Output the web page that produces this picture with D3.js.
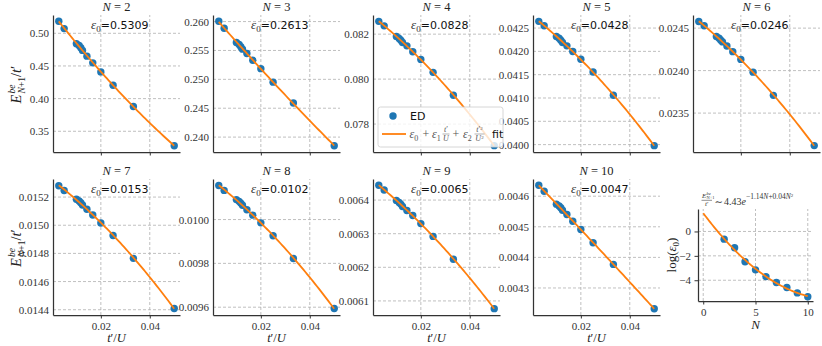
<!DOCTYPE html>
<html><head><meta charset="utf-8">
<script src="https://cdn.jsdelivr.net/npm/d3@7"></script>
<style>body{margin:0;background:#fff}svg{display:block}</style>
</head><body><svg id="c" width="822" height="346"></svg>
<script>
// ---------------- data ----------------
const tU = [0.0028, 0.005, 0.01, 0.0111, 0.0118, 0.0125, 0.0143, 0.0167, 0.02, 0.025, 0.0333, 0.05];
const Ns = [2, 3, 4, 5, 6, 7, 8, 9, 10];
const E_N2  = [0.5185, 0.5072, 0.4841, 0.4815, 0.4779, 0.4738, 0.4650, 0.4548, 0.4409, 0.4204, 0.3880, 0.3278];
const E_N3  = [0.26006, 0.25884, 0.25639, 0.25604, 0.25563, 0.25523, 0.25447, 0.25330, 0.25185, 0.24951, 0.24590, 0.23850];
const E_N4  = [0.08257, 0.08237, 0.08190, 0.08181, 0.08173, 0.08163, 0.08148, 0.08122, 0.08087, 0.08030, 0.07928, 0.07704];
const E_N5  = [0.042644, 0.042550, 0.042320, 0.042284, 0.042241, 0.042190, 0.042118, 0.041996, 0.041830, 0.041556, 0.041059, 0.039978];
const E_N6  = [0.024579, 0.024528, 0.024401, 0.024381, 0.024358, 0.024338, 0.024290, 0.024223, 0.024132, 0.023982, 0.023709, 0.023117];
const E_N7  = [0.015280, 0.015247, 0.015184, 0.015172, 0.015160, 0.015144, 0.015113, 0.015073, 0.015016, 0.014927, 0.014765, 0.014409];
const E_N8  = [0.010155, 0.010133, 0.010091, 0.010083, 0.010075, 0.010065, 0.010045, 0.010020, 0.009985, 0.009926, 0.009822, 0.009594];
const E_N9  = [0.006444, 0.006430, 0.006399, 0.006393, 0.006388, 0.006381, 0.006369, 0.006354, 0.006330, 0.006292, 0.006224, 0.006077];
const E_N10 = [0.004636, 0.004616, 0.004574, 0.004568, 0.004562, 0.004554, 0.004540, 0.004518, 0.004491, 0.004448, 0.004377, 0.004232];
const eps0Text = ["0.5309", "0.2613", "0.0828", "0.0428", "0.0246", "0.0153", "0.0102", "0.0065", "0.0047"];
const yTicks_N2  = [0.35, 0.40, 0.45, 0.50];
const yTicks_N3  = [0.240, 0.245, 0.250, 0.255, 0.260];
const yTicks_N4  = [0.078, 0.080, 0.082];
const yTicks_N5  = [0.0400, 0.0405, 0.0410, 0.0415, 0.0420, 0.0425];
const yTicks_N6  = [0.0235, 0.0240, 0.0245];
const yTicks_N7  = [0.0144, 0.0146, 0.0148, 0.0150, 0.0152];
const yTicks_N8  = [0.0096, 0.0098, 0.0100];
const yTicks_N9  = [0.0061, 0.0062, 0.0063, 0.0064];
const yTicks_N10 = [0.0043, 0.0044, 0.0045, 0.0046];
const yTickDecimals = [2, 3, 3, 4, 4, 4, 4, 4, 4];
const xTicks = [0.02, 0.04];
const logEps0 = [-0.63, -1.34, -2.49, -3.15, -3.70, -4.18, -4.59, -5.04, -5.36];
const nTicks = [0, 5, 10];
const logTicks = [-4, -2, 0];

const E_all = [E_N2, E_N3, E_N4, E_N5, E_N6, E_N7, E_N8, E_N9, E_N10];
const yTicks_all = [yTicks_N2, yTicks_N3, yTicks_N4, yTicks_N5, yTicks_N6, yTicks_N7, yTicks_N8, yTicks_N9, yTicks_N10];

// ---------------- helpers ----------------
const BLUE = "#1f77b4", ORANGE = "#ff7f0e";
const SERIF = "'Liberation Serif','DejaVu Serif',serif";
const SANS = "'DejaVu Sans',sans-serif";
const pad = ([a, b]) => [a - 0.05 * (b - a), b + 0.05 * (b - a)];

function polyfit2(xs, ys) {
  const sx = d3.max(xs, v => Math.abs(v)) || 1;
  const A = [[0,0,0],[0,0,0],[0,0,0]], b = [0,0,0];
  xs.forEach((x0, i) => {
    const u = x0 / sx, p = [1, u, u * u];
    for (let r = 0; r < 3; r++) { b[r] += p[r] * ys[i]; for (let c = 0; c < 3; c++) A[r][c] += p[r] * p[c]; }
  });
  for (let k = 0; k < 3; k++) {
    let piv = k;
    for (let r = k + 1; r < 3; r++) if (Math.abs(A[r][k]) > Math.abs(A[piv][k])) piv = r;
    [A[k], A[piv]] = [A[piv], A[k]]; [b[k], b[piv]] = [b[piv], b[k]];
    for (let r = k + 1; r < 3; r++) { const f = A[r][k] / A[k][k]; for (let c = k; c < 3; c++) A[r][c] -= f * A[k][c]; b[r] -= f * b[k]; }
  }
  const c = [0,0,0];
  for (let k = 2; k >= 0; k--) { let s = b[k]; for (let j = k + 1; j < 3; j++) s -= A[k][j] * c[j]; c[k] = s / A[k][k]; }
  return x => { const u = x / sx; return c[0] + c[1] * u + c[2] * u * u; };
}

const svg = d3.select("#c");

function styleAxis(g) {
  g.attr("font-family", SERIF).attr("font-size", 11);
  g.select(".domain").attr("stroke", "#333").attr("stroke-width", 1.25);
  g.selectAll(".tick line").attr("stroke", "#333").attr("stroke-width", 1);
  g.selectAll(".tick text").attr("fill", "#333");
}

function grid(g, x, y, xt, yt) {
  const [x0, x1] = x.range(), [y0, y1] = y.range();
  g.selectAll(null).data(xt).enter().append("line")
    .attr("x1", d => x(d)).attr("x2", d => x(d)).attr("y1", y0).attr("y2", y1)
    .attr("stroke", "#b0b0b0").attr("stroke-width", 0.8).attr("stroke-dasharray", "3,2");
  g.selectAll(null).data(yt).enter().append("line")
    .attr("x1", x0).attr("x2", x1).attr("y1", d => y(d)).attr("y2", d => y(d))
    .attr("stroke", "#b0b0b0").attr("stroke-width", 0.8).attr("stroke-dasharray", "3,2");
}

function ylabelE(cx, cy) {
  const g = svg.append("g").attr("transform", `translate(${cx},${cy}) rotate(-90)`)
    .attr("font-family", SERIF).attr("fill", "#222");
  g.append("text").attr("x", -20).attr("y", 0).attr("font-size", 14.5).attr("font-style", "italic").text("E");
  g.append("text").attr("x", -10).attr("y", -6).attr("font-size", 9.5).attr("font-style", "italic").text("be");
  g.append("text").attr("x", -10).attr("y", 4).attr("font-size", 9.5)
    .html("<tspan font-style='italic'>N</tspan>+1");
  g.append("text").attr("x", 6.5).attr("y", 0).attr("font-size", 14.5)
    .html("/<tspan font-style='italic'>t</tspan>′");
}

// ---------------- panels ----------------
const W = 127;
Ns.forEach((n, i) => {
  const row = i < 5 ? 0 : 1, col = i % 5;
  const left = 53 + 160 * col, top = row ? 179 : 15, bottom = row ? 315 : 152;
  const E = E_all[i];
  const fit = polyfit2(tU, E);
  const [tmin, tmax] = d3.extent(tU);
  const samp = d3.range(61).map(k => tmin + (tmax - tmin) * k / 60);
  const fitVals = samp.map(fit);
  const x = d3.scaleLinear().domain(pad([tmin, tmax])).range([left, left + W]);
  const y = d3.scaleLinear().domain(pad(d3.extent(E.concat(fitVals)))).range([bottom, top]);
  const g = svg.append("g");
  grid(g, x, y, xTicks, yTicks_all[i]);

  const ax = g.append("g").attr("transform", `translate(0,${bottom})`)
    .call(d3.axisBottom(x).tickValues(xTicks).tickSize(3.5).tickSizeOuter(0).tickPadding(3.5)
      .tickFormat(row ? d3.format(".2f") : () => ""));
  styleAxis(ax);
  const ay = g.append("g").attr("transform", `translate(${left},0)`)
    .call(d3.axisLeft(y).tickValues(yTicks_all[i]).tickSize(0).tickSizeOuter(0).tickPadding(4)
      .tickFormat(d3.format(`.${yTickDecimals[i]}f`)));
  styleAxis(ay);

  g.selectAll("circle").data(tU).enter().append("circle")
    .attr("cx", d => x(d)).attr("cy", (d, k) => y(E[k])).attr("r", 3.7).attr("fill", BLUE);
  g.append("path").datum(samp)
    .attr("d", d3.line().x(d => x(d)).y(d => y(fit(d))))
    .attr("fill", "none").attr("stroke", ORANGE).attr("stroke-width", 1.8);

  // title
  const tt = g.append("text").attr("x", left + W / 2).attr("y", top - 4).attr("text-anchor", "middle")
    .attr("font-family", SERIF).attr("font-size", 12.5).attr("fill", "#222");
  tt.append("tspan").attr("font-style", "italic").text("N");
  tt.append("tspan").text(" = " + n);

  // eps0 annotation
  const et = g.append("text").attr("x", left + 0.3 * W).attr("y", top + 0.1 * (bottom - top)).attr("fill", "#111");
  et.append("tspan").attr("font-family", SERIF).attr("font-style", "italic").attr("font-size", 13).attr("fill", "#333").text("ε");
  et.append("tspan").attr("font-family", SERIF).attr("font-size", 9).attr("dy", 3).attr("fill", "#333").text("0");
  et.append("tspan").attr("font-family", SANS).attr("font-size", 11).attr("dy", -3).text("=" + eps0Text[i]);

  if (row) {
    const xl = g.append("text").attr("x", left + W / 2).attr("y", 342).attr("text-anchor", "middle")
      .attr("font-family", SERIF).attr("font-size", 12.5).attr("fill", "#222");
    xl.append("tspan").attr("font-style", "italic").text("t");
    xl.append("tspan").text("′/");
    xl.append("tspan").attr("font-style", "italic").text("U");
  }
});
ylabelE(21, (15 + 152) / 2);
ylabelE(21, (179 + 315) / 2);

// ---------------- log panel ----------------
{
  const left = 698, right = 813, top = 209, bottom = 301;
  const fit = polyfit2(Ns, logEps0);
  const samp = d3.range(101).map(k => 10 * k / 100);
  const fv = samp.map(fit);
  const x = d3.scaleLinear().domain(pad([0, 10])).range([left, right]);
  const y = d3.scaleLinear().domain(pad(d3.extent(logEps0.concat(fv)))).range([bottom, top]);
  const g = svg.append("g");
  grid(g, x, y, nTicks, logTicks);
  const ax = g.append("g").attr("transform", `translate(0,${bottom})`)
    .call(d3.axisBottom(x).tickValues(nTicks).tickSize(3.5).tickSizeOuter(0).tickPadding(3.5).tickFormat(d3.format("d")));
  styleAxis(ax);
  const ay = g.append("g").attr("transform", `translate(${left},0)`)
    .call(d3.axisLeft(y).tickValues(logTicks).tickSize(3.5).tickSizeOuter(0).tickPadding(3.5).tickFormat(d3.format("d")));
  styleAxis(ay);
  g.selectAll("circle").data(Ns).enter().append("circle")
    .attr("cx", d => x(d)).attr("cy", (d, k) => y(logEps0[k])).attr("r", 3.7).attr("fill", BLUE);
  g.append("path").datum(samp).attr("d", d3.line().x(d => x(d)).y(d => y(fit(d))))
    .attr("fill", "none").attr("stroke", ORANGE).attr("stroke-width", 1.8);

  // ylabel
  const yl = svg.append("text").attr("transform", `translate(676,${(top + bottom) / 2}) rotate(-90)`)
    .attr("text-anchor", "middle").attr("font-family", SERIF).attr("font-size", 13).attr("fill", "#222");
  yl.append("tspan").text("log(");
  yl.append("tspan").attr("font-style", "italic").text("ε");
  yl.append("tspan").attr("font-size", 9).attr("dy", 3).text("0");
  yl.append("tspan").attr("dy", -3).text(")");
  // xlabel
  svg.append("text").attr("x", (left + right) / 2).attr("y", 329).attr("text-anchor", "middle")
    .attr("font-family", SERIF).attr("font-size", 13).attr("font-style", "italic").attr("fill", "#222").text("N");

  // title: E/t' ~ 4.43 e^{-1.14N+0.04N^2}
  const tg = svg.append("g").attr("font-family", SERIF).attr("fill", "#333");
  tg.append("text").attr("x", 702).attr("y", 198).attr("font-size", 7).attr("font-style", "italic").text("E");
  tg.append("text").attr("x", 706.5).attr("y", 195).attr("font-size", 4.5).attr("font-style", "italic").text("be");
  tg.append("text").attr("x", 706.5).attr("y", 199).attr("font-size", 4.5).text("N+1");
  tg.append("line").attr("x1", 701.5).attr("x2", 712).attr("y1", 200.3).attr("y2", 200.3).attr("stroke", "#444").attr("stroke-width", 0.6);
  tg.append("text").attr("x", 706.7).attr("y", 206).attr("font-size", 7).attr("text-anchor", "middle")
    .html("<tspan font-style='italic'>t</tspan>′");
  tg.append("text").attr("x", 714.5).attr("y", 205).attr("font-size", 10).text("∼");
  tg.append("text").attr("x", 724).attr("y", 205).attr("font-size", 10)
    .html("4.43<tspan font-style='italic'>e</tspan>");
  tg.append("text").attr("x", 746).attr("y", 199).attr("font-size", 7.5)
    .html("−1.14<tspan font-style='italic'>N</tspan>+0.04<tspan font-style='italic'>N</tspan><tspan font-size='5' dy='-2.5'>2</tspan>");
}

// ---------------- legend ----------------
{
  const lg = svg.append("g");
  lg.append("rect").attr("x", 378).attr("y", 107).attr("width", 125).attr("height", 40).attr("rx", 2.5)
    .attr("fill", "#fff").attr("fill-opacity", 0.8).attr("stroke", "#cccccc").attr("stroke-width", 0.8);
  lg.append("circle").attr("cx", 393).attr("cy", 116).attr("r", 3.7).attr("fill", BLUE);
  lg.append("text").attr("x", 410).attr("y", 120).attr("font-family", SANS).attr("font-size", 11).attr("fill", "#111").text("ED");
  lg.append("line").attr("x1", 382).attr("x2", 406).attr("y1", 134).attr("y2", 134).attr("stroke", ORANGE).attr("stroke-width", 1.8);
  const m = lg.append("g").attr("font-family", SERIF).attr("fill", "#555");
  const eps = (x0, sub) => {
    const t = m.append("text").attr("x", x0).attr("y", 138).attr("font-size", 12);
    t.append("tspan").attr("font-style", "italic").text("ε");
    t.append("tspan").attr("font-size", 8).attr("dy", 2.5).text(sub);
  };
  const plus = cx => m.append("text").attr("x", cx).attr("y", 138).attr("font-size", 12).attr("text-anchor", "middle").text("+");
  const frac = (cx, w, numHtml, denHtml) => {
    m.append("text").attr("x", cx).attr("y", 132).attr("font-size", 8).attr("text-anchor", "middle").html(numHtml);
    m.append("line").attr("x1", cx - w / 2).attr("x2", cx + w / 2).attr("y1", 134).attr("y2", 134).attr("stroke", "#666").attr("stroke-width", 0.5);
    m.append("text").attr("x", cx).attr("y", 141).attr("font-size", 8).attr("text-anchor", "middle").html(denHtml);
  };
  eps(409.5, "0");
  plus(426);
  eps(432, "1");
  frac(446, 7, "<tspan font-style='italic'>t</tspan>′", "<tspan font-style='italic'>U</tspan>");
  plus(456);
  eps(463, "2");
  frac(479.5, 10, "<tspan font-style='italic'>t</tspan>′<tspan font-size='5' dy='-2'>2</tspan>",
       "<tspan font-style='italic'>U</tspan><tspan font-size='5' dy='-2'>2</tspan>");
  lg.append("text").attr("x", 492).attr("y", 138).attr("font-family", SANS).attr("font-size", 11).attr("fill", "#111").text("fit");
}
</script>
</body></html>
